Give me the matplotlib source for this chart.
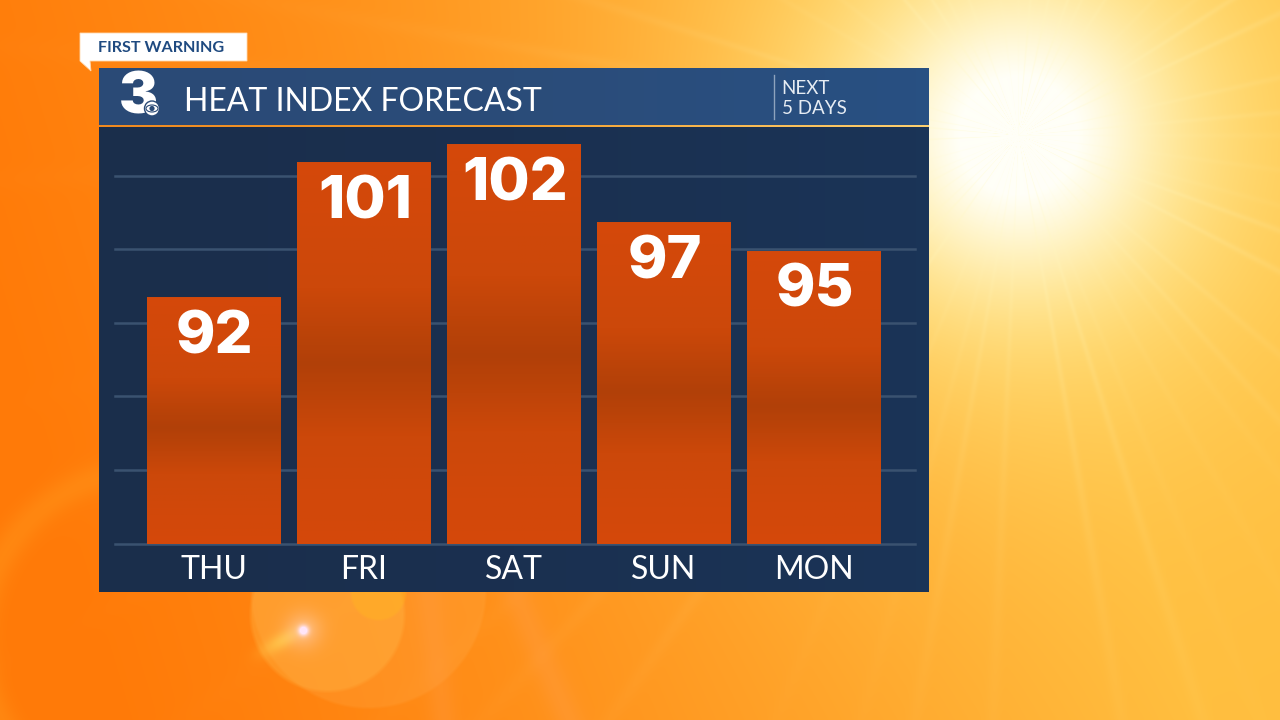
import numpy as np
import matplotlib
matplotlib.use('Agg')
from matplotlib import pyplot as plt
from matplotlib.colors import LinearSegmentedColormap
from matplotlib.patches import Polygon, Circle, Ellipse

plt.rcParams['font.family'] = ['Lato', 'DejaVu Sans']

days = ['THU', 'FRI', 'SAT', 'SUN', 'MON']
bar_heights = [92, 101, 102.2, 97, 95.1]
bar_labels = ['92', '101', '102', '97', '95']
grid_ticks = [75.6, 80.5, 85.4, 90.3, 95.2, 100.07]

W, H = 1280, 720
fig = plt.figure(figsize=(12.8, 7.2), dpi=100)

# Background, pixel coordinates
bg = fig.add_axes([0, 0, 1, 1])
bg.set_xlim(0, W)
bg.set_ylim(H, 0)
bg.axis('off')


def blend(img, color, amount):
    return img + (np.array(color) - img) * np.clip(amount, 0, 1)[..., None]


yy, xx = np.mgrid[0:H, 0:W]
t = np.clip((xx - 100 + 0.3 * (H - yy)) / 1100, 0, 1) ** 1.2
img = np.array([255, 122, 8]) / 255 + (np.array([255, 190, 62]) - np.array([255, 122, 8])) / 255 * t[..., None]

# sun glow and rays
sx, sy = 1018, 135
r = np.hypot(xx - sx, yy - sy)
ang = np.arctan2(yy - sy, xx - sx)
img = blend(img, (1, 0.85, 0.42), 0.95 * np.exp(-(r / 330) ** 2))
img = blend(img, (1, 0.93, 0.6), 0.9 * np.exp(-(r / 200) ** 2))
img = blend(img, (1, 1, 0.97), 1.25 * np.exp(-(r / 125) ** 2))
ray = np.zeros_like(r)
for k in range(46):
    a = np.deg2rad(k * 137.5 % 360)
    d = np.angle(np.exp(1j * (ang - a)))
    ray += (0.35 + 0.3 * (k % 3)) * np.exp(-(d / 0.012) ** 2)
img = blend(img, (1, 0.97, 0.75), 0.3 * ray * np.exp(-r / 300))

# lens flare low on the left
outer = np.hypot(xx - 368, yy - 590)
inner = np.hypot(xx - 327, yy - 614)
core = np.hypot(xx - 378, yy - 592)
img = blend(img, (1, 0.68, 0.3), 0.24 * np.clip((119 - outer) / 3, 0, 1))
img = blend(img, (1, 0.74, 0.3), 0.34 * np.clip((79 - inner) / 4, 0, 1))
img = blend(img, (1, 0.72, 0.12), 0.4 * np.clip((29 - core) / 3, 0, 1))
img = blend(img, (1, 0.8, 0.3), 0.7 * np.exp(-(((xx - 282) * 0.87 - (yy - 640) * 0.5) / 22) ** 2
                                            - (((xx - 282) * 0.5 + (yy - 640) * 0.87) / 8) ** 2))
star = np.hypot(xx - 303, yy - 630)
img = blend(img, (1, 0.9, 0.98), np.exp(-(star / 5) ** 2) + 0.35 * np.exp(-(star / 18) ** 2))
# pale beams under the panel
beam1 = np.abs(xx - (428 + (yy - 592) * 0.12))
beam2 = np.abs(xx - (515 + (yy - 592) * 0.42))
img = blend(img, (1, 0.62, 0.3), 0.25 * np.exp(-(beam1 / 14) ** 2) * (yy > 560))
img = blend(img, (1, 0.62, 0.3), 0.3 * np.exp(-(beam2 / 16) ** 2) * (yy > 560))
# faint arc far left
arc = np.hypot(xx - 150, yy - 640)
img = blend(img, (1, 0.58, 0.1), 0.5 * np.exp(-((arc - 170) / 16) ** 2) * (xx < 110))
bg.imshow(np.clip(img, 0, 1), extent=[0, W, H, 0], aspect='auto', zorder=0)

# Panel
body = np.linspace(0, 1, 64).reshape(1, -1)
body_cmap = LinearSegmentedColormap.from_list('body', ['#1a2e4b', '#1a3050', '#1a3457'])
bg.imshow(body, extent=[99, 929, 592, 127], cmap=body_cmap, aspect='auto', zorder=1)
head_cmap = LinearSegmentedColormap.from_list('head', ['#2a4a76', '#2b4c79', '#285082'])
bg.imshow(body, extent=[99, 929, 126, 68], cmap=head_cmap, aspect='auto', zorder=1)
line_cmap = LinearSegmentedColormap.from_list('line', ['#f08a20', '#f5a030', '#fdd070'])
bg.imshow(body, extent=[99, 929, 127.5, 125.8], cmap=line_cmap, aspect='auto', zorder=2)
bg.set_xlim(0, W)
bg.set_ylim(H, 0)

# Header text
bg.text(184, 102, 'HEAT INDEX FORECAST', color='white', fontsize=23, va='center', ha='left', zorder=3)
bg.plot([773.5, 773.5], [75, 119], color='#8ea3bd', lw=1, zorder=3)
bg.text(781.5, 88, 'NEXT', color='#e6ecf3', fontsize=13.5, va='center', ha='left', zorder=3)
bg.text(781.5, 109, '5 DAYS', color='#e6ecf3', fontsize=13.5, va='center', ha='left', zorder=3)

# Logo
bg.text(138, 98, '3', color='white', fontsize=42, family='Inter', fontweight='black', va='center', ha='center', zorder=3)
bg.add_patch(Circle((152, 108.5), 7.5, fc='white', ec='#2a4a76', lw=1, zorder=4))
bg.add_patch(Ellipse((152, 108.5), 12, 7, fc='none', ec='#2a4a76', lw=0.8, zorder=5))
bg.add_patch(Circle((152, 108.5), 2.6, fc='#2a4a76', ec='none', zorder=5))

# First warning tag
tag = [(80, 33), (247, 33), (247, 61), (90, 61), (91, 71), (80, 61)]
bg.add_patch(Polygon(tag, closed=True, fc='white', ec='#ffd9b0', lw=0.6, zorder=3))
bg.text(98, 48, 'FIRST WARNING', color='#1f4a80', fontsize=11.6, fontweight='bold', va='center', ha='left', zorder=4)

# Chart axes: 15 px per degree, bars 150 px apart
ax = fig.add_axes([114.5 / W, 1 - 543.5 / H, 800 / W, 413 / H])
ax.patch.set_alpha(0)
x = np.arange(len(days))
bars = ax.bar(x, bar_heights, width=134 / 150, color='#d2480a', zorder=2)

bar_cmap = LinearSegmentedColormap.from_list(
    'bar', [(0, '#d64a0a'), (0.33, '#cc480a'), (0.53, '#b04008'), (0.72, '#cc480a'), (1, '#d64a0a')])
grad = np.linspace(0, 1, 256).reshape(-1, 1)
for rect, h in zip(bars, bar_heights):
    rect.set_height(h - 0.05)
    x0, w = rect.get_x(), rect.get_width()
    ax.imshow(grad, extent=[x0, x0 + w, 75.6, h - 0.05], cmap=bar_cmap,
              aspect='auto', origin='upper', zorder=3, alpha=0.97)

ax.set_xlim(-99 / 150, 701 / 150)
ax.set_ylim(75.6, 75.6 + 413 / 15)
ax.set_yticks(grid_ticks)
ax.set_yticklabels([])
ax.set_xticks(x)
ax.set_xticklabels(days, fontsize=23, color='white')
ax.tick_params(length=0, pad=8)
ax.grid(axis='y', color='#3a5270', lw=1.8, zorder=1, clip_on=False)
ax.grid(axis='x', visible=False)
ax.set_axisbelow(True)
for s in ax.spines.values():
    s.set_visible(False)

for xi, h, lab in zip(x, bar_heights, bar_labels):
    ax.annotate(lab, (xi, h), xytext=(1, -29), textcoords='offset points', ha='center', va='center',
                color='white', fontsize=43, family='Inter', fontweight='extra bold', zorder=5)

fig.savefig('out.png', dpi=100)
